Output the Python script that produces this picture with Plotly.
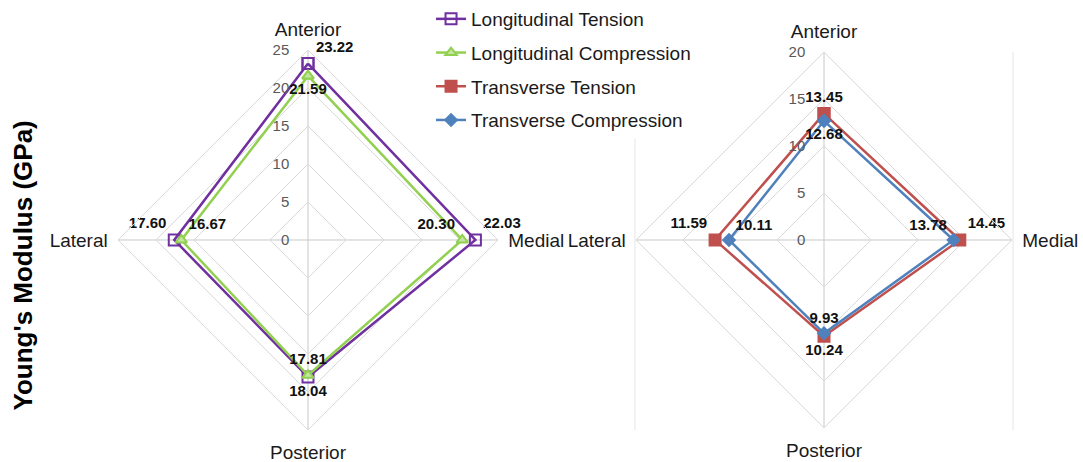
import plotly.graph_objects as go

# Directions around each radar, clockwise from the top
directions = ["Anterior", "Medial", "Posterior", "Lateral"]
left_labels = ["Anterior", "Medial", "Posterior", "Lateral"]
right_labels = ["Anterior", "Medial", "Posterior", "Lateral"]

# Young's modulus (GPa)
long_tension = [23.22, 22.03, 18.04, 17.60]
long_compression = [21.59, 20.30, 17.81, 16.67]
trans_tension = [13.45, 14.45, 10.24, 11.59]
trans_compression = [12.68, 13.78, 9.93, 10.11]

left_ticks = [0, 5, 10, 15, 20, 25]
right_ticks = [0, 5, 10, 15, 20]

FONT = "Arial, Liberation Sans, sans-serif"


def closed(values):
    # repeat the first point so the polygon closes
    return list(values) + [values[0]]


def add_series(fig, values, name, color, symbol, size, mfill, text_pos, subplot, group):
    fig.add_trace(go.Scatterpolar(
        r=closed(values),
        theta=closed(directions),
        mode="lines+markers+text",
        name=name,
        legendgroup=group,
        line=dict(color=color, width=2.5),
        marker=dict(symbol=symbol, size=size, color=mfill,
                    line=dict(color=color, width=2)),
        text=["%.2f" % v for v in values] + [""],
        textposition=text_pos + ["middle center"],
        textfont=dict(family=FONT, size=15, color="#111111", weight="bold"),
        cliponaxis=False,
        subplot=subplot,
    ))


fig = go.Figure()

add_series(fig, long_tension, "Longitudinal Tension", "#7030a0", "square-open", 11,
           "#7030a0", ["top right", "top right", "bottom center", "top left"], "polar", "a")
add_series(fig, long_compression, "Longitudinal Compression", "#92d050", "triangle-up", 10,
           "#c4e6a0", ["bottom center", "top left", "top center", "top right"], "polar", "b")
add_series(fig, trans_tension, "Transverse Tension", "#c0504d", "square", 11,
           "#c0504d", ["top center", "top right", "bottom center", "top left"], "polar2", "c")
add_series(fig, trans_compression, "Transverse Compression", "#4f81bd", "diamond", 9,
           "#4f81bd", ["bottom center", "top left", "top center", "top right"], "polar2", "d")


def polar_layout(domain_x, domain_y, ticks, labels):
    return dict(
        domain=dict(x=domain_x, y=domain_y),
        gridshape="linear",
        bgcolor="white",
        radialaxis=dict(
            range=[0, ticks[-1]],
            tickvals=ticks,
            angle=90,
            tickangle=90,
            side="counterclockwise",
            showline=False,
            ticks="outside",
            ticklen=13,
            tickcolor="rgba(0,0,0,0)",
            gridcolor="#d9d9d9",
            gridwidth=1,
            tickfont=dict(family=FONT, size=15, color="#595959"),
        ),
        angularaxis=dict(
            categoryarray=directions,
            tickvals=directions,
            ticktext=labels,
            direction="clockwise",
            rotation=90,
            showline=True,
            linecolor="#d9d9d9",
            gridcolor="#c8c8c8",
            ticks="outside",
            ticklen=6,
            tickcolor="rgba(0,0,0,0)",
            tickfont=dict(family=FONT, size=19, color="#1a1a1a"),
        ),
    )


fig.update_layout(
    width=1083,
    height=462,
    margin=dict(l=0, r=0, t=0, b=0),
    paper_bgcolor="white",
    polar=polar_layout([0.1090, 0.4598], [0.0693, 0.8918], left_ticks, left_labels),
    polar2=polar_layout([0.5873, 0.9344], [0.0736, 0.8875], right_ticks, right_labels),
    showlegend=True,
    legend=dict(
        x=0.398, y=1.0, xanchor="left", yanchor="top",
        bgcolor="rgba(255,255,255,0.9)",
        font=dict(family=FONT, size=19, color="#1a1a1a"),
        tracegroupgap=6,
        itemwidth=30,
    ),
    annotations=[dict(
        text="<b>Young's Modulus (GPa)</b>",
        x=0.0212, y=0.4253, xref="paper", yref="paper",
        xanchor="center", yanchor="middle",
        textangle=-90, showarrow=False,
        font=dict(family=FONT, size=26, color="#000000"),
    )],
    shapes=[
        dict(type="line", xref="paper", yref="paper", x0=0.5863, x1=0.5863,
             y0=0.0693, y1=0.708, line=dict(color="#e6e6e6", width=1)),
        dict(type="line", xref="paper", yref="paper", x0=0.9354, x1=0.9354,
             y0=0.0693, y1=0.8874, line=dict(color="#e6e6e6", width=1)),
    ],
)

# drop the browser's default page margin so the figure fills the window
fig.write_html("out.html", config={"displayModeBar": False},
               post_script="document.body.style.margin='0';")
